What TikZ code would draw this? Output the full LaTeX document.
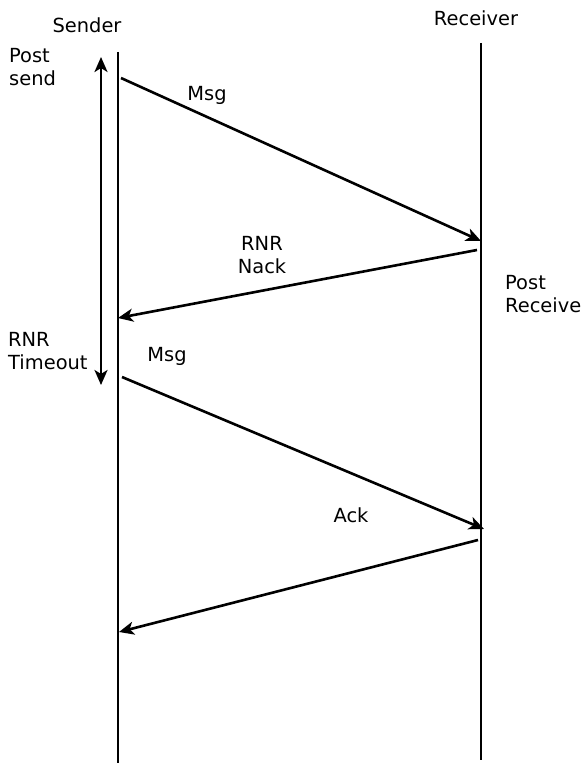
\documentclass[tikz,border=0pt]{standalone}
\usepackage{fontspec}
\setmainfont{DejaVu Sans}
\usetikzlibrary{arrows.meta}
\begin{document}
\begin{tikzpicture}[x=1bp,y=-1bp,
  life/.style={line width=2.6bp},
  tip/.style={Stealth[length=15bp,width=13bp,inset=4bp]},
  msg/.style={line width=2.6bp,-{Stealth[length=15bp,width=13bp,inset=4bp]}},
  lbl/.style={font=\fontsize{19.5}{23.5}\selectfont,inner sep=0pt,align=left},
]
\useasboundingbox (0,0) rectangle (585,763);
% lifelines
\coordinate (st) at (118,52);
\coordinate (sb) at (118,763);
\coordinate (rt) at (481,43);
\coordinate (rb) at (481,760);
\draw[life] (st) -- (sb);
\draw[life] (rt) -- (rb);
\node[lbl] (sender) at (87,25) {Sender};
\node[lbl] (receiver) at (476,18) {Receiver};
% double arrow
\coordinate (dt) at (101,57);
\coordinate (db) at (101,385);
\draw[line width=2.6bp,{Stealth[length=15bp,width=13bp,inset=4bp]}-{Stealth[length=15bp,width=13bp,inset=4bp]}] (dt) -- (db);
\node[lbl,anchor=north west] (postsend) at (9,48) {Post\\send};
\node[lbl,anchor=north west] (timeout) at (8,332) {RNR\\Timeout};
% messages
\coordinate (m1a) at (121,78);
\coordinate (m1b) at (481,241);
\draw[msg] (m1a) -- (m1b);
\node[lbl] (msg1) at (207,95) {Msg};
\coordinate (n1a) at (477,250);
\coordinate (n1b) at (118,318);
\draw[msg] (n1a) -- (n1b);
\node[lbl,align=center] (nack) at (262,255) {RNR\\Nack};
\node[lbl,anchor=north west] (postrecv) at (505,275) {Post\\Receive};
\coordinate (m2a) at (122,377);
\coordinate (m2b) at (484,529);
\draw[msg] (m2a) -- (m2b);
\node[lbl] (msg2) at (167,356) {Msg};
\coordinate (a1a) at (478,540);
\coordinate (a1b) at (119,632);
\draw[msg] (a1a) -- (a1b);
\node[lbl] (ack) at (351,515) {Ack};
\end{tikzpicture}
\end{document}
